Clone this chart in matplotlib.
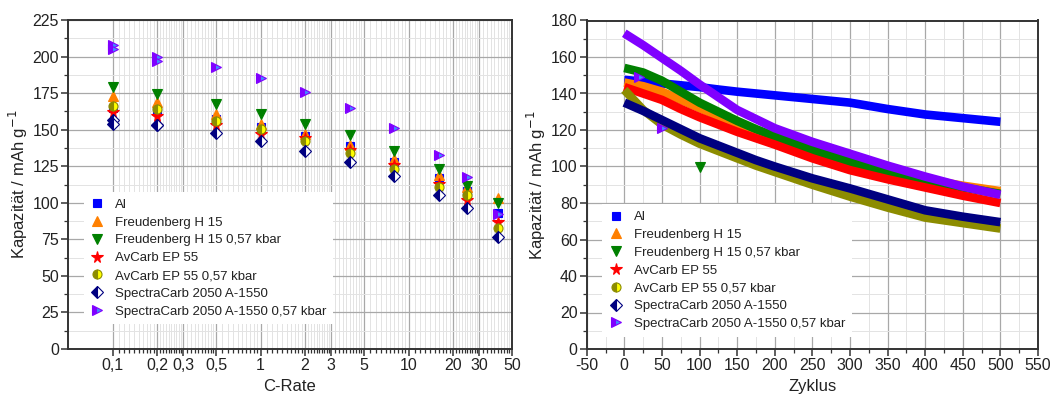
import numpy as np
import matplotlib
matplotlib.use("Agg")
import matplotlib.pyplot as plt
from matplotlib.lines import Line2D
from matplotlib.ticker import FixedLocator, FuncFormatter, MultipleLocator

plt.rcParams['font.family'] = ['Liberation Sans', 'DejaVu Sans']
plt.rcParams['axes.unicode_minus'] = False

# ---- rate capability (left) ----
c_rates = [0.1, 0.2, 0.5, 1, 2, 4, 8, 16, 25, 40]
al_rate = [165, 163, 157, 152, 146, 139, 128, 117, 108, 93]
fh15_rate = [173, 169, 161, 154, 147, 139.5, 130, 119, 111, 103]
fh15p_rate = [179.5, 174.5, 167.5, 160.5, 154, 146.5, 135.5, 123, 111.5, 100]
ep55_rate = [162, 159.5, 153, 147, 144, 136, 126, 113, 102, 87]
ep55p_rate = [166, 164, 156, 150.5, 142, 134, 123, 111, 105, 83]
sc_rate = [156.5, 153.5, 148, 142, 135.7, 127.6, 118, 105.6, 96.5, 76.5]
scp_rate = [208, 200, 193, 185, 176, 165, 151, 133, 117.5, 92]
# repeated cycles at the two slowest rates
rep_rates = [0.1, 0.2]
sc_rate_rep = [154, 153]
scp_rate_rep = [205, 197]

# ---- cycling (right) ----
cycles = [0, 25, 50, 75, 100, 125, 150, 175, 200, 250, 300, 350, 400, 450, 500]
al_cyc = [147.5, 146.5, 145.5, 144.5, 143.5, 142.2, 141, 140, 139, 137, 135, 131.5, 128.5, 126.5, 124.5]
fh15_cyc = [146, 144, 141, 136.5, 132, 127.5, 123, 119.5, 116, 109, 103, 97.5, 93, 89.5, 86.5]
fh15p_cyc = [154, 151.5, 147, 141, 135, 130, 125, 120.5, 116.5, 109, 102.5, 97, 92.5, 88.5, 85]
ep55_cyc = [143.5, 140, 136.5, 131.5, 127, 123, 119, 115.5, 112, 104.5, 98, 93, 88.5, 84, 80]
ep55p_cyc = [142, 131, 123, 117.5, 112.5, 108.5, 104.5, 100.5, 97, 90, 83.5, 77.5, 72, 69, 66]
sc_cyc = [135, 130.5, 125.5, 120.5, 115.5, 111.5, 107.5, 103.5, 100, 93.5, 88, 82, 76, 72.5, 69.5]
scp_cyc = [173, 166.5, 159.5, 152.5, 145, 138, 131, 126, 121, 113.5, 107, 100.5, 94.5, 89, 84.5]
# isolated outlier points
fh15p_out_cyc, fh15p_out_val = [100], [99.5]
scp_out_cyc, scp_out_val = [20, 50], [149, 121]

labels = ["Al", "Freudenberg H 15", "Freudenberg H 15 0,57 kbar", "AvCarb EP 55",
          "AvCarb EP 55 0,57 kbar", "SpectraCarb 2050 A-1550",
          "SpectraCarb 2050 A-1550 0,57 kbar"]

BLUE, ORANGE, GREEN, RED = "#0000ff", "#ff8000", "#008000", "#ff0000"
OLIVE, YELLOW, NAVY, VIOLET, LBLUE = "#8c8c00", "#ffff00", "#000080", "#8000ff", "#3f8cff"

styles = [
    dict(marker="s", color=BLUE, mfc=BLUE, mec=BLUE, ms=6),
    dict(marker="^", color=ORANGE, mfc=ORANGE, mec=ORANGE, ms=7.5),
    dict(marker="v", color=GREEN, mfc=GREEN, mec=GREEN, ms=7.5),
    dict(marker="*", color=RED, mfc=RED, mec=RED, ms=8.5),
    dict(marker="o", color=OLIVE, mfc=OLIVE, mfcalt=YELLOW, mec=OLIVE, ms=6.5, fillstyle="left"),
    dict(marker="D", color=NAVY, mfc=NAVY, mfcalt="white", mec=NAVY, ms=6.5, fillstyle="left"),
    dict(marker=">", color=VIOLET, mfc=VIOLET, mfcalt=LBLUE, mec=VIOLET, ms=7.5, fillstyle="left"),
]

TXT = "#222222"
fig = plt.figure(figsize=(10.55, 3.97), dpi=100)
ax1 = fig.add_axes([68 / 1055, 48 / 397, 444 / 1055, 329 / 397])
ax2 = fig.add_axes([586.7 / 1055, 48 / 397, 451.3 / 1055, 328.5 / 397])


def marker_kw(st):
    kw = dict(marker=st["marker"], markersize=st["ms"], markerfacecolor=st["mfc"],
              markeredgecolor=st["mec"], markeredgewidth=0.8, linestyle="none")
    if "fillstyle" in st:
        kw["fillstyle"] = st["fillstyle"]
        kw["markerfacecoloralt"] = st["mfcalt"]
    return kw


rate_sets = [al_rate, fh15_rate, fh15p_rate, ep55_rate, ep55p_rate, sc_rate, scp_rate]
for vals, st in zip(rate_sets, styles):
    ax1.plot(c_rates, vals, **marker_kw(st), zorder=3)
ax1.plot(rep_rates, sc_rate_rep, **marker_kw(styles[5]), zorder=3)
ax1.plot(rep_rates, scp_rate_rep, **marker_kw(styles[6]), zorder=3)

ax1.set_xscale("log")
ax1.set_xlim(0.05, 50)
ax1.set_ylim(0, 225)
majors = [0.1, 0.2, 0.3, 0.5, 1, 2, 3, 5, 10, 20, 30, 50]
minors = []
for a, b in zip(majors[:-1], majors[1:]):
    minors.extend(np.linspace(a, b, 11)[1:-1])
ax1.xaxis.set_major_locator(FixedLocator(majors))
ax1.xaxis.set_minor_locator(FixedLocator(minors))
ax1.xaxis.set_major_formatter(FuncFormatter(lambda v, p: ("%g" % v).replace(".", ",")))
ax1.xaxis.set_minor_formatter(FuncFormatter(lambda v, p: ""))
ax1.yaxis.set_major_locator(MultipleLocator(25))
ax1.yaxis.set_minor_locator(MultipleLocator(12.5))
ax1.set_xlabel("C-Rate", fontsize=12, color=TXT, labelpad=4)

# ---- cycling bands ----
cyc_sets = [al_cyc, fh15_cyc, fh15p_cyc, ep55_cyc, ep55p_cyc, sc_cyc, scp_cyc]
for vals, st in zip(cyc_sets, styles):
    ax2.plot(cycles, vals, color=st["color"], lw=6.2, solid_capstyle="butt",
             solid_joinstyle="round", zorder=3)
ax2.plot(fh15p_out_cyc, fh15p_out_val, **marker_kw(styles[2]), zorder=3)
ax2.plot(scp_out_cyc, scp_out_val, **marker_kw(styles[6]), zorder=3)

ax2.set_xlim(-50, 550)
ax2.set_ylim(0, 180)
ax2.xaxis.set_major_locator(MultipleLocator(50))
ax2.xaxis.set_minor_locator(MultipleLocator(25))
ax2.yaxis.set_major_locator(MultipleLocator(20))
ax2.yaxis.set_minor_locator(MultipleLocator(10))
ax2.set_xlabel("Zyklus", fontsize=12, color=TXT, labelpad=4)

for ax in (ax1, ax2):
    ax.set_ylabel("Kapazität / mAh g$^{-1}$", fontsize=12, color=TXT, labelpad=2)
    ax.grid(which="major", color="#a8a8a8", lw=0.9)
    ax.grid(which="minor", color="#e3e3e3", lw=0.7)
    ax.set_axisbelow(True)
    for sp in ax.spines.values():
        sp.set_linewidth(1.4)
        sp.set_color("#333333")
    ax.tick_params(which="major", direction="out", length=5, width=1.1,
                   labelsize=11.5, colors="#333333", labelcolor=TXT,
                   top=False, right=False, pad=1.5)
    ax.tick_params(which="minor", direction="out", length=3, width=0.9,
                   colors="#333333", top=False, right=False)
    handles = [Line2D([], [], **marker_kw(st)) for st in styles]
    leg = ax.legend(handles, labels, loc="upper left", fontsize=9.5,
                    frameon=True, fancybox=False, framealpha=1,
                    handlelength=1.0, handletextpad=0.9, labelspacing=0.42,
                    borderpad=0.5, borderaxespad=0)
    leg.get_frame().set_edgecolor("none")
    leg.get_frame().set_facecolor("white")
    leg.set_zorder(2.5)
    for t in leg.get_texts():
        t.set_color(TXT)

ax1.get_legend().set_bbox_to_anchor((0.035, 0.477), transform=ax1.transAxes)
ax2.get_legend().set_bbox_to_anchor((0.035, 0.44), transform=ax2.transAxes)

fig.savefig("out.png", dpi=100)
